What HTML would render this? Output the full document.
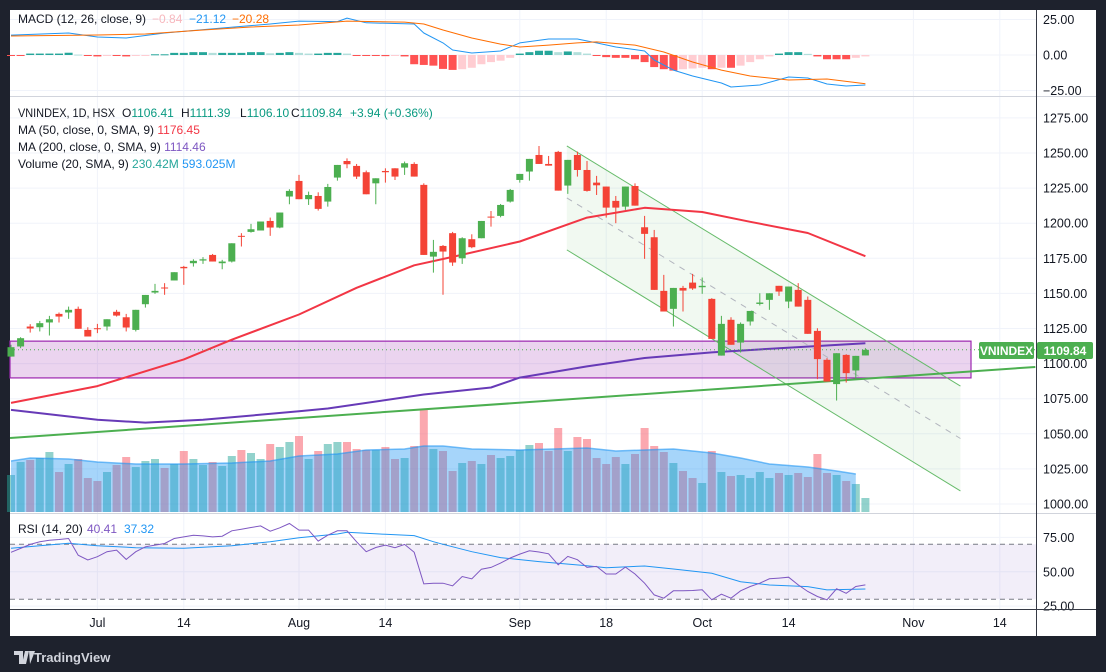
<!DOCTYPE html>
<html><head><meta charset="utf-8">
<style>
html,body{margin:0;padding:0;background:#1e222d;width:1106px;height:672px;overflow:hidden}
svg{display:block;font-family:"Liberation Sans",sans-serif}
</style></head>
<body>
<svg id="chart" width="1106" height="672" viewBox="0 0 1106 672" xmlns="http://www.w3.org/2000/svg">
  <rect x="0" y="0" width="1106" height="672" fill="#1e222d"/>
  <rect x="10" y="10" width="1086" height="626" fill="#ffffff"/>
  <g id="grid"></g>
  <g id="macdPane"></g>
  <g id="mainPane"></g>
  <g id="rsiPane"></g>
  <g id="axes"></g>
  <line x1="10" y1="96.5" x2="1096" y2="96.5" stroke="#d1d4dc"/>
  <line x1="10" y1="513.5" x2="1096" y2="513.5" stroke="#d1d4dc"/>
  <line x1="1036.5" y1="10" x2="1036.5" y2="636" stroke="#363a45"/>
  <line x1="10" y1="609.5" x2="1096" y2="609.5" stroke="#363a45"/>
  <g font-size="12">
    <text x="18" y="23" fill="#131722">MACD (12, 26, close, 9)</text>
    <text x="152" y="23" fill="#f7b7bd">−0.84</text>
    <text x="189" y="23" fill="#2196f3">−21.12</text>
    <text x="232" y="23" fill="#ff6d00">−20.28</text>
  </g>
  <g font-size="12">
    <text x="18" y="117" fill="#131722" textLength="97" lengthAdjust="spacingAndGlyphs">VNINDEX, 1D, HSX</text>
    <text x="122" y="117" fill="#131722">O<tspan fill="#089981">1106.41</tspan></text>
    <text x="181" y="117" fill="#131722">H<tspan fill="#089981">1111.39</tspan></text>
    <text x="240" y="117" fill="#131722">L<tspan fill="#089981">1106.10</tspan></text>
    <text x="291" y="117" fill="#131722">C<tspan fill="#089981">1109.84</tspan></text>
    <text x="350" y="117" fill="#089981">+3.94 (+0.36%)</text>
    <text x="18" y="134" fill="#131722">MA (50, close, 0, SMA, 9) <tspan fill="#f23645">1176.45</tspan></text>
    <text x="18" y="151" fill="#131722">MA (200, close, 0, SMA, 9) <tspan fill="#7e57c2">1114.46</tspan></text>
    <text x="18" y="168" fill="#131722">Volume (20, SMA, 9) <tspan fill="#26a69a">230.42M</tspan> <tspan fill="#2196f3">593.025M</tspan></text>
  </g>
  <g font-size="12">
    <text x="18" y="533" fill="#131722">RSI (14, 20)</text>
    <text x="87" y="533" fill="#7e57c2">40.41</text>
    <text x="124" y="533" fill="#2196f3">37.32</text>
  </g>
  <g>
    <rect x="979" y="342" width="55" height="17" rx="2" fill="#4caf50"/>
    <text x="1006.5" y="355" fill="#fff" font-size="12" font-weight="bold" text-anchor="middle">VNINDEX</text>
    <rect x="1037" y="342" width="56" height="17" rx="2" fill="#4caf50"/>
    <text x="1065" y="355" fill="#fff" font-size="12" font-weight="bold" text-anchor="middle">1109.84</text>
  </g>
  <g>
    <path d="M14 651h9v13h-4v-9h-5z M25 651h4l-3 13h-4z M29 651h6l-5 13z" fill="#d1d4dc"/>
    <text x="34" y="662" fill="#d1d4dc" font-size="13" font-weight="bold">TradingView</text>
  </g>
</svg>
<script>
const open  = [1105.0,1112.2,1126.4,1125.9,1129.3,1135.4,1136.4,1139.0,1124.0,1125.2,1126.4,1136.9,1133.0,1124.0,1142.3,1150.6,1154.2,1159.2,1168.9,1171.5,1173.4,1177.4,1171.5,1172.7,1191.0,1193.8,1194.8,1201.6,1196.9,1219.0,1230.1,1217.1,1219.4,1215.4,1232.5,1244.3,1240.8,1236.3,1228.4,1237.2,1239.1,1239.6,1242.2,1227.3,1176.2,1183.8,1192.9,1175.0,1188.6,1189.3,1204.7,1205.2,1215.4,1230.8,1236.8,1248.6,1242.2,1250.8,1226.8,1248.6,1237.9,1228.9,1226.1,1215.9,1211.8,1226.5,1197.1,1190.0,1151.8,1139.0,1153.9,1157.7,1154.4,1146.1,1105.7,1131.2,1115.0,1130.0,1142.5,1145.4,1155.4,1144.2,1152.5,1145.4,1123.3,1102.7,1085.4,1106.2,1095.1,1105.8];
const high  = [1113.4,1118.8,1128.1,1130.4,1134.0,1136.4,1140.6,1140.6,1125.9,1128.3,1131.6,1138.3,1135.4,1138.3,1148.9,1156.8,1157.3,1165.1,1169.6,1174.3,1175.8,1178.1,1173.9,1185.7,1192.9,1199.5,1201.2,1204.0,1207.6,1224.2,1234.4,1222.5,1222.0,1228.0,1241.5,1246.2,1242.2,1237.5,1232.0,1239.1,1239.1,1243.9,1243.4,1228.4,1188.1,1184.5,1193.8,1190.0,1192.1,1201.6,1208.7,1213.7,1224.4,1235.1,1245.8,1255.0,1247.9,1251.5,1245.1,1251.0,1244.3,1233.7,1226.1,1219.4,1226.1,1228.4,1205.2,1195.2,1163.2,1153.9,1155.4,1163.9,1161.3,1146.6,1134.0,1133.0,1129.3,1137.5,1150.1,1150.1,1155.4,1154.9,1157.3,1147.8,1125.2,1103.9,1107.4,1106.7,1105.5,1111.0];
const low   = [1105.0,1111.0,1122.1,1122.9,1120.0,1129.3,1131.9,1124.8,1119.3,1121.7,1123.6,1133.5,1122.9,1122.9,1139.9,1149.7,1149.0,1159.2,1156.1,1169.1,1171.0,1172.7,1167.2,1172.0,1183.4,1193.3,1194.8,1191.0,1196.4,1213.5,1217.1,1213.0,1209.0,1211.8,1230.3,1239.1,1231.5,1220.6,1213.5,1228.9,1230.8,1234.4,1233.2,1177.4,1164.8,1149.0,1169.6,1171.0,1182.2,1189.3,1197.6,1204.2,1214.7,1228.9,1230.3,1242.2,1241.0,1223.2,1220.9,1233.2,1222.5,1220.1,1204.0,1200.0,1209.5,1212.5,1174.6,1152.5,1137.1,1126.4,1137.1,1152.5,1149.7,1117.6,1105.7,1113.4,1107.9,1127.1,1141.4,1138.3,1148.2,1139.5,1140.6,1121.2,1088.9,1087.2,1073.7,1086.5,1088.9,1105.8];
const close = [1111.7,1118.1,1125.0,1128.8,1131.6,1133.5,1138.3,1124.8,1119.3,1124.5,1131.6,1134.2,1125.7,1138.3,1148.9,1151.8,1153.7,1165.1,1167.9,1173.2,1174.3,1172.7,1172.7,1185.7,1190.5,1195.7,1201.2,1196.9,1207.6,1223.0,1217.1,1220.1,1210.2,1225.8,1241.5,1242.0,1233.2,1220.6,1232.0,1236.3,1233.2,1242.7,1233.2,1177.4,1179.6,1179.8,1172.0,1189.3,1182.9,1201.6,1204.0,1213.0,1223.7,1235.1,1245.8,1242.2,1241.0,1223.2,1245.1,1237.9,1223.0,1227.0,1211.1,1211.1,1226.1,1212.5,1192.4,1152.5,1137.1,1153.9,1152.0,1153.5,1155.4,1117.6,1128.3,1113.4,1128.3,1137.5,1143.5,1150.1,1151.3,1154.9,1140.6,1121.2,1103.2,1087.2,1107.4,1093.2,1105.5,1109.8];
const volume = [37,50,52,54,60,40,48,53,34,31,40,47,55,45,51,53,44,48,61,53,47,50,46,56,62,59,53,68,65,70,76,53,61,68,70,70,63,62,62,65,53,54,66,102,63,61,41,49,51,48,57,54,56,62,67,69,61,84,61,75,73,54,48,55,48,58,84,66,60,49,41,34,29,61,40,36,37,34,40,34,39,37,39,35,58,39,37,31,28,14];
const volMAIdx = [0,2,6,9,13,18,23,27,30,34,37,41,43,45,48,53,60,63,66,69,73,76,79,83,86,88];
const volMAVal = [51,54,53,50,48,48,49,51,56,58,62,63,66,66,63,62,64,61,62,63,59,54,48,45,41,38];
const ma50Idx = [0,9,18,23,30,36,42,46,53,60,66,72,77,83,89];
const ma50Val = [1072,1084,1103,1117,1135,1154,1170,1176,1187,1204,1211,1208,1201,1193,1176.5];
const ma200Idx = [0,9,14,20,30,33,43,50,53,60,66,73,80,89];
const ma200Val = [1067,1060,1058,1060,1066,1068,1078,1083,1090,1098,1104,1108,1111,1114.5];
const macdIdx = [0,6,9,12,16,22,27,30,34,35,37,42,43,45,46,48,51,53,56,59,61,63,66,67,69,71,74,75,78,81,83,85,87,89];
const macdVal = [14,15.5,12.7,12,15.5,19,21.8,23.9,23.5,26,22.7,21.8,15.5,8.5,3.5,1.4,2.8,8.5,11.3,11.3,8.5,5.6,2.8,-3.5,-10.6,-14.8,-19.7,-22.5,-21.1,-15.5,-16.2,-20.4,-21.8,-21.1];
const signalIdx = [0,9,14,20,25,30,35,41,43,45,48,51,53,56,59,61,65,68,71,74,77,81,85,89];
const signalVal = [13.4,14.1,14.8,17.6,19.7,21.1,23.9,23.2,21.8,17.6,12,7.7,5.6,7,8.5,9.2,7,2.1,-4.9,-10.6,-14.8,-17.6,-16.9,-20.3];
const macdHist = [-0.3,-0.3,1,1,1,1,1.6,0.3,-0.5,-1,-0.5,-0.5,-1,-0.4,-0.2,0.5,0.5,1.5,1.5,2,2,1.5,1.5,1.5,1.5,2,2,1.2,1.5,2,1.5,1,1,1.5,1.5,1,-0.2,-0.5,-0.5,-0.8,-0.5,-1,-6.5,-7,-7.5,-9.8,-10.5,-10,-9,-6.5,-5,-4,-2,1,2,3,3,2,2.5,2,1,-0.3,-1.5,-2,-2,-3,-5,-8.5,-10,-11,-10,-9.5,-9,-10,-9,-9,-7.5,-5,-3,-1,1,2,2,0.8,-1,-3,-3,-3,-2,-1];
const rsi = [64.2,67.0,69.9,71.8,73.0,73.5,74.2,62.1,58.6,61,64.6,65.8,59,64.6,68.2,69.4,70.6,74.2,75.4,76.6,76.1,75.4,75.9,79.8,81,82.2,83.4,79.5,82,85.1,80.3,80.3,72.3,76.6,79.8,79.8,71.8,64.6,67.7,69.4,67.5,69.9,64.2,41.2,41.7,41.7,39.8,46.6,44.9,51.9,53.2,56.3,60,62.9,65.3,64.4,63.1,55.1,61.2,58.8,53.2,53.9,48.4,48.4,53.4,48.4,41.7,33.2,30.8,36.2,36.2,36.4,36.9,29.6,33.7,30.8,36.2,39.3,41.7,44.9,45.4,46.1,40.5,35.7,32,29.6,37.6,34.4,39.3,40.5];
const rsiMAIdx = [0,6,9,13,18,23,27,30,34,35,39,42,44,45,48,51,55,60,62,66,69,73,76,79,83,85,89];
const rsiMAVal = [67.1,70.7,69,67.5,67.1,69,71.9,74.8,77.5,78.7,77.3,76.3,71.9,70,64.6,60.3,57.4,54.4,53,54.2,52,48.9,42.8,40.4,39.2,36.8,37.5];
const priceTicks = [1275,1250,1225,1200,1175,1150,1125,1100,1075,1050,1025,1000];
const macdTicks = [25,0,-25];
const rsiTicks = [75,50,25];
const timeTickIdx = [9,18,30,39,53,62,72,81,94,103];
const timeTickLabels = ["Jul","14","Aug","14","Sep","18","Oct","14","Nov","14"];
const channelStartIdx = 57.9, channelEndIdx = 98.9;
const channelUpper = [1255,1084];
const channelLower = [1181,1009.3];
const zoneTop = 1116, zoneBottom = 1089.8, zoneEndIdx = 100;
const trendIdx = [-0.1,106.7];
const trendVal = [1047,1097.6];
const lastClose = 1109.84;

const NS = "http://www.w3.org/2000/svg";
function X(i){ return 11 + i*9.6; }
function Yp(p){ return 153 + (1250 - p)*1.404; }
function Ym(v){ return 55 - v*1.42; }
function Yr(v){ return 544.3 - (v - 70)*1.375; }
function Yv(v){ return 512 - v; }
function mk(tag, attrs, parent){ const e=document.createElementNS(NS,tag); for(const k in attrs) e.setAttribute(k,attrs[k]); parent.appendChild(e); return e; }
function pts(idx, val, yf){ return idx.map((d,k)=>X(d).toFixed(1)+","+yf(val[k]).toFixed(1)).join(" "); }

const grid = document.getElementById("grid");
const mainP = document.getElementById("mainPane");
const macdP = document.getElementById("macdPane");
const rsiP = document.getElementById("rsiPane");
const axes = document.getElementById("axes");

timeTickIdx.forEach((t,k)=>{
  const l = mk("line",{x1:X(t),x2:X(t),y1:10,y2:609,stroke:"#f0f3fa","stroke-width":1},grid);
  
  
  const tx = mk("text",{x:X(t),y:627,"font-size":12.5,fill:"#131722","text-anchor":"middle"},axes);
  tx.textContent = timeTickLabels[k];
  
  
});
priceTicks.forEach(p=>{
  const y = Yp(p);
  const l = mk("line",{x1:10,x2:1036,y1:y,y2:y,stroke:"#f0f3fa"},grid);
  
  
  const tx = mk("text",{x:1043,y:y+4.5,"font-size":12.5,fill:"#131722"},axes);
  tx.textContent = p.toFixed(2);
  
  
});
macdTicks.forEach(v=>{
  const y = Ym(v);
  const l = mk("line",{x1:10,x2:1036,y1:y,y2:y,stroke:"#f0f3fa"},grid);
  
  
  const tx = mk("text",{x:1043,y:y+4.5,"font-size":12.5,fill:"#131722"},axes);
  tx.textContent = (v<0?"−":"")+Math.abs(v).toFixed(2);
  
  
});
rsiTicks.forEach(v=>{
  const y = Yr(v);
  const l = mk("line",{x1:10,x2:1036,y1:y,y2:y,stroke:"#f0f3fa"},grid);
  
  
  const tx = mk("text",{x:1043,y:y+4.5,"font-size":12.5,fill:"#131722"},axes);
  tx.textContent = v.toFixed(2);
  
  
});

macdHist.forEach((v,i)=>{
  const prev = i>0 ? macdHist[i-1] : v;
  let c;
  if (v>=0) c = v>=prev ? "#26a69a" : "#b2dfdb";
  else c = v<=prev ? "#ff5252" : "#ffcdd2";
  const y0 = Ym(0), y1 = Ym(v);
  const r = mk("rect",{x:X(i)-4,y:Math.min(y0,y1),width:8,height:Math.max(1,Math.abs(y1-y0)),fill:c},macdP);
  
  
});
const macdLine = mk("polyline",{points:pts(macdIdx,macdVal,Ym),fill:"none",stroke:"#2196f3","stroke-width":1,"stroke-linejoin":"round"},macdP);


const sigLine = mk("polyline",{points:pts(signalIdx,signalVal,Ym),fill:"none",stroke:"#ff6d00","stroke-width":1,"stroke-linejoin":"round"},macdP);



volume.forEach((v,i)=>{
  const up = close[i] >= open[i];
  const r = mk("rect",{x:X(i)-4,y:Yv(v),width:8,height:v,fill:up?"rgba(38,166,154,0.5)":"rgba(247,82,95,0.5)"},mainP);
  
  
});
const vmaPts = pts(volMAIdx,volMAVal,Yv);
const vArea = mk("polygon",{points:X(volMAIdx[0])+","+Yv(0)+" "+vmaPts+" "+X(volMAIdx[volMAIdx.length-1])+","+Yv(0),fill:"rgba(33,150,243,0.4)"},mainP);


const vLine = mk("polyline",{points:vmaPts,fill:"none",stroke:"rgba(33,150,243,0.6)","stroke-width":1.5},mainP);



const zone = mk("rect",{x:10,y:Yp(zoneTop),width:X(zoneEndIdx)-10,height:Yp(zoneBottom)-Yp(zoneTop),fill:"rgba(156,39,176,0.2)",stroke:"#9c27b0","stroke-width":1.2},mainP);



const cx0 = X(channelStartIdx), cx1 = X(channelEndIdx);
const chFill = mk("polygon",{points:`${cx0},${Yp(channelUpper[0])} ${cx1},${Yp(channelUpper[1])} ${cx1},${Yp(channelLower[1])} ${cx0},${Yp(channelLower[0])}`,fill:"rgba(76,175,80,0.08)"},mainP);


const chU = mk("line",{x1:cx0,y1:Yp(channelUpper[0]),x2:cx1,y2:Yp(channelUpper[1]),stroke:"#66bb6a","stroke-width":1},mainP);


const chL = mk("line",{x1:cx0,y1:Yp(channelLower[0]),x2:cx1,y2:Yp(channelLower[1]),stroke:"#66bb6a","stroke-width":1},mainP);


const chM = mk("line",{x1:cx0,y1:Yp((channelUpper[0]+channelLower[0])/2),x2:cx1,y2:Yp((channelUpper[1]+channelLower[1])/2),stroke:"#b2b5be","stroke-width":1,"stroke-dasharray":"6,6"},mainP);



const tl = mk("line",{x1:X(trendIdx[0]),y1:Yp(trendVal[0]),x2:X(trendIdx[1]),y2:Yp(trendVal[1]),stroke:"#4caf50","stroke-width":2},mainP);



const ma200 = mk("polyline",{points:pts(ma200Idx,ma200Val,Yp),fill:"none",stroke:"#673ab7","stroke-width":2,"stroke-linejoin":"round"},mainP);


const ma50 = mk("polyline",{points:pts(ma50Idx,ma50Val,Yp),fill:"none",stroke:"#f23645","stroke-width":2,"stroke-linejoin":"round"},mainP);



const lp = mk("line",{x1:10,x2:1036,y1:Yp(lastClose),y2:Yp(lastClose),stroke:"#4caf50","stroke-width":1,"stroke-dasharray":"1,3"},mainP);



open.forEach((o,i)=>{
  const c = close[i], up = c>=o, col = up ? "#4caf50" : "#f44336";
  const w = mk("line",{x1:X(i),x2:X(i),y1:Yp(high[i]),y2:Yp(low[i]),stroke:col,"stroke-width":1},mainP);
  
  
  const yt = Yp(Math.max(o,c)), yb = Yp(Math.min(o,c));
  const b = mk("rect",{x:X(i)-3.5,y:yt,width:7,height:Math.max(1,yb-yt),fill:col},mainP);
  
  
});

const band = mk("rect",{x:10,y:Yr(70),width:1026,height:Yr(30)-Yr(70),fill:"rgba(126,87,194,0.1)"},rsiP);


[70,30].forEach(v=>{
  const l = mk("line",{x1:10,x2:1036,y1:Yr(v),y2:Yr(v),stroke:"#787b86","stroke-dasharray":"5,4"},rsiP);
  
  
});
const rsiMA = mk("polyline",{points:pts(rsiMAIdx,rsiMAVal,Yr),fill:"none",stroke:"#2196f3","stroke-width":1},rsiP);


const rsiLine = mk("polyline",{points:rsi.map((v,i)=>X(i).toFixed(1)+","+Yr(v).toFixed(1)).join(" "),fill:"none",stroke:"#7e57c2","stroke-width":1},rsiP);


</script>
</body></html>
